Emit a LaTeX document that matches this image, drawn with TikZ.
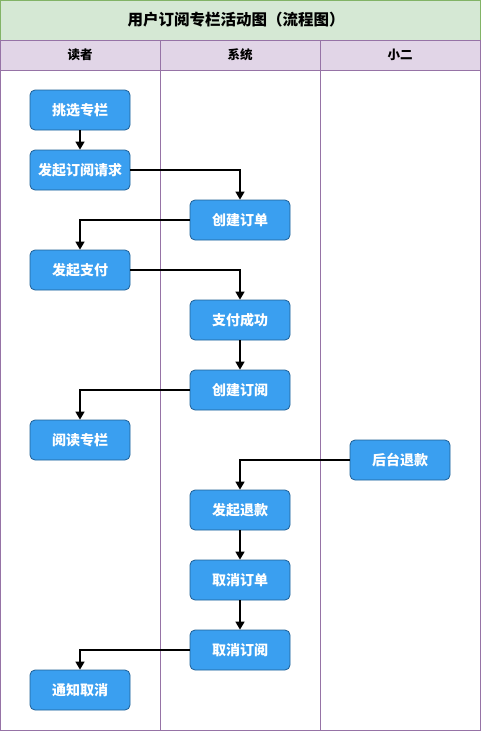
\documentclass[tikz,border=0pt]{standalone}
\usepackage{fontspec}
\setmainfont{Noto Sans CJK SC}
\usetikzlibrary{arrows.meta}
\definecolor{titlefill}{HTML}{D5E8D4}
\definecolor{titledraw}{HTML}{82B366}
\definecolor{lanefill}{HTML}{E1D5E7}
\definecolor{lanedraw}{HTML}{9673A6}
\definecolor{boxfill}{HTML}{3A9FF0}
\definecolor{boxdraw}{HTML}{1F5F94}
\tikzset{
  stepbox/.style={draw=boxdraw, fill=boxfill, rounded corners=5pt, line width=0.8pt,
    minimum width=100pt, minimum height=40pt, inner sep=0pt, text=white,
    font=\fontsize{14}{16}\selectfont\bfseries},
  flow/.style={draw=black, line width=1.6pt, -{Triangle[width=9pt,length=8pt]}},
  lanehead/.style={font=\fontsize{12.5}{14}\selectfont\bfseries},
}
\begin{document}
\begin{tikzpicture}[x=1pt,y=-1pt]
\useasboundingbox (0,0) rectangle (481,731);
% title
\fill[titlefill] (0.5,0.5) rectangle (480.5,40);
\draw[titledraw, line width=1pt] (0.5,0.5) rectangle (480.5,40);
\node[font=\fontsize{15.5}{18}\selectfont\bfseries] (title) at (236,19.5) {用户订阅专栏活动图（流程图）};
% lane headers
\fill[lanefill] (0.5,40) rectangle (480.5,70);
\draw[lanedraw, line width=1pt] (0.5,40) rectangle (480.5,730.5);
\draw[lanedraw, line width=1pt] (0.5,70) -- (480.5,70);
\draw[lanedraw, line width=1pt] (160.5,40) -- (160.5,730.5);
\draw[lanedraw, line width=1pt] (320.5,40) -- (320.5,730.5);
\node[lanehead] (h1) at (80,55) {读者};
\node[lanehead] (h2) at (240,55) {系统};
\node[lanehead] (h3) at (400,55) {小二};
% boxes
\node[stepbox] (a1) at (80,110) {挑选专栏};
\node[stepbox] (a2) at (80,170) {发起订阅请求};
\node[stepbox] (b1) at (240,220) {创建订单};
\node[stepbox] (a3) at (80,270) {发起支付};
\node[stepbox] (b2) at (240,320) {支付成功};
\node[stepbox] (b3) at (240,390) {创建订阅};
\node[stepbox] (a4) at (80,440) {阅读专栏};
\node[stepbox] (c1) at (400,460) {后台退款};
\node[stepbox] (b4) at (240,510) {发起退款};
\node[stepbox] (b5) at (240,580) {取消订单};
\node[stepbox] (b6) at (240,650) {取消订阅};
\node[stepbox] (a5) at (80,690) {通知取消};
% connectors
\draw[flow] (a1) -- (a2);
\draw[flow] (a2.east) -| (b1.north);
\draw[flow] (b1.west) -| (a3.north);
\draw[flow] (a3.east) -| (b2.north);
\draw[flow] (b2) -- (b3);
\draw[flow] (b3.west) -| (a4.north);
\draw[flow] (c1.west) -| (b4.north);
\draw[flow] (b4) -- (b5);
\draw[flow] (b5) -- (b6);
\draw[flow] (b6.west) -| (a5.north);
\end{tikzpicture}
\end{document}
